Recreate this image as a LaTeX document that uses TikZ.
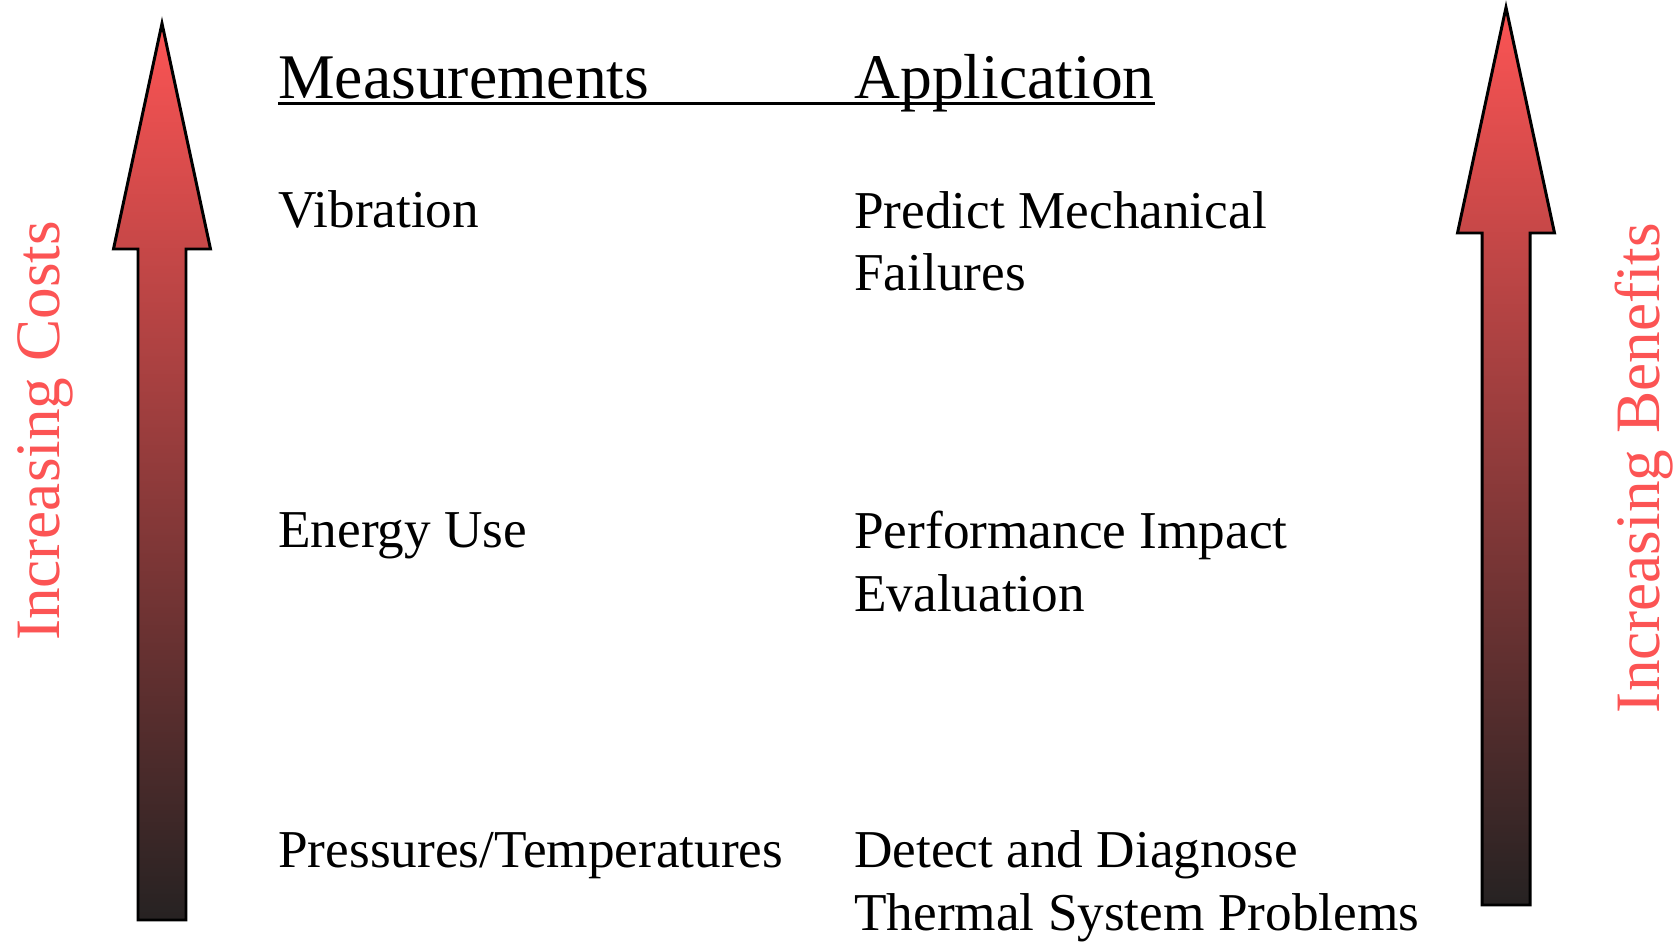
\documentclass[tikz,border=0pt]{standalone}
\usepackage{fontspec}
\setmainfont{Liberation Serif}
\usetikzlibrary{positioning}

\definecolor{hotred}{RGB}{252,84,84}
\definecolor{midred}{RGB}{212,72,72}
\definecolor{darkend}{RGB}{38,34,34}

\tikzset{
  colhead/.style={font=\fontsize{36.2}{43}\selectfont, anchor=base west, inner sep=0pt},
  entry/.style={font=\fontsize{30.3}{35.7}\selectfont, anchor=base west, inner sep=0pt, align=left},
  sidelabel/.style={font=\fontsize{36}{43}\selectfont, text=hotred, rotate=90, anchor=base, inner sep=0pt},
  bigarrow/.style={draw=black, line width=1.7pt, top color=hotred, middle color=midred,
    bottom color=darkend, line join=miter}
}

% block arrow pointing up: x, tip y, head base y, bottom y
\newcommand{\risearrow}[4]{%
  \shade[bigarrow] (#1,#2) -- (#1+48.5,#3) -- (#1+24,#3) -- (#1+24,#4)
    -- (#1-24,#4) -- (#1-24,#3) -- (#1-48.5,#3) -- cycle;}

\begin{document}
\begin{tikzpicture}[x=0.02cm, y=-0.02cm]
  \useasboundingbox (0,0) rectangle (1678,942);
  % Arrows on both sides
  \risearrow{162}{23.5}{249}{920}
  \risearrow{1506}{7.5}{233}{905}
  % Side labels
  \node[sidelabel] (costs) at (59,431) {Increasing Costs};
  \node[sidelabel] (benefits) at (1659,468) {Increasing Benefits};
  % Column heads
  \node[colhead] (meas) at (278,98.5) {Measurements};
  \node[colhead] (appl) at (854,98.5) {Application};
  \coordinate (ul) at ([yshift=-2.8pt]meas.base west);
  \draw[line width=2pt] (ul) -- (ul -| appl.base east);
  % Rows (two-line entries sit on their second baseline)
  \foreach \y/\m/\a/\n in {228/Vibration/{Predict Mechanical\\Failures}/vib,
      548/Energy Use/{Performance Impact\\Evaluation}/energy,
      867/Pressures\slash Temperatures/{Detect and Diagnose\\Thermal System Problems}/press} {
    \node[entry] (m-\n) at (278,\y) {\m};
    \node[entry] (a-\n) at (854,\y+63) {\a};
  }
\end{tikzpicture}
\end{document}
